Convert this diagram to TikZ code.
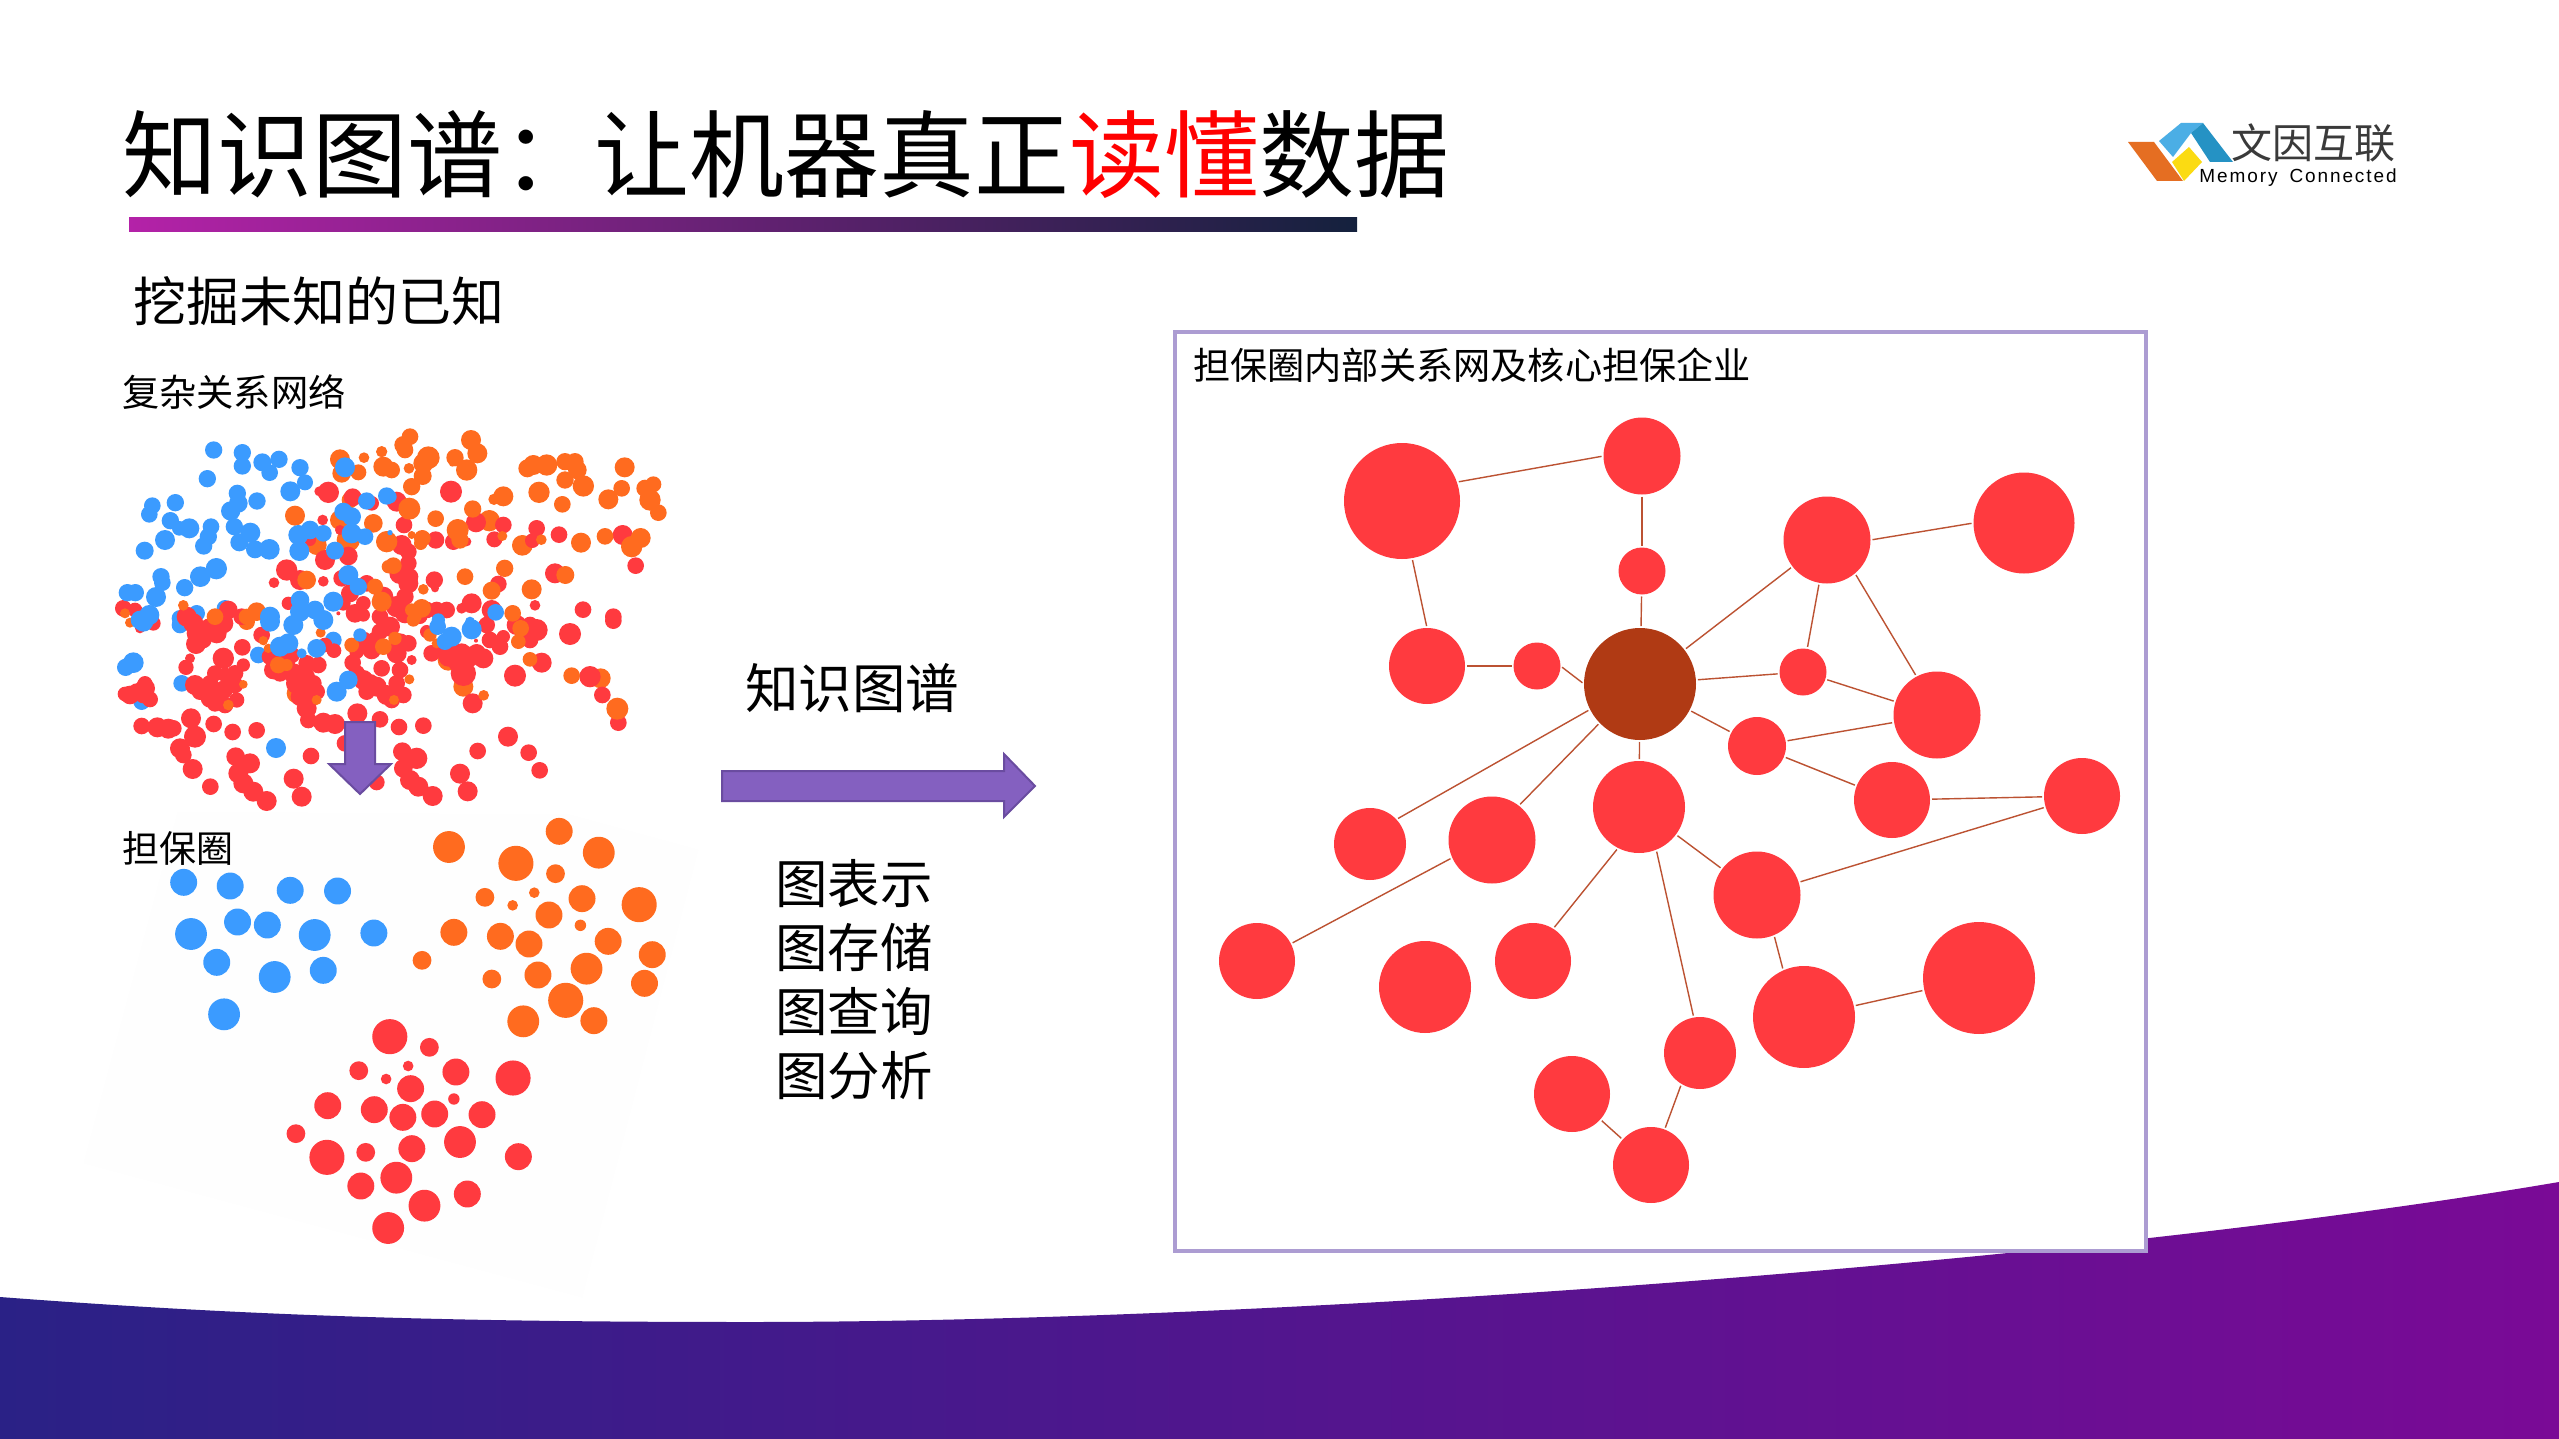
\documentclass[tikz,border=0pt]{standalone}
\usepackage{fontspec}
\setmainfont{Noto Sans CJK SC}
\newfontfamily\logolatin[LetterSpace=10]{Liberation Sans}
\definecolor{dotred}{HTML}{FF3A3F}
\definecolor{dotorange}{HTML}{FF6B1F}
\definecolor{dotblue}{HTML}{3B9BFF}
\definecolor{corebrown}{HTML}{B03A14}
\definecolor{edgecol}{HTML}{BC5232}
\definecolor{framecol}{HTML}{AC9CD2}
\definecolor{arrowfill}{HTML}{8460C0}
\definecolor{arrowline}{HTML}{6A4CA0}
\definecolor{wavel}{HTML}{2A2186}
\definecolor{wavem}{HTML}{481B8A}
\definecolor{waver}{HTML}{7A0A96}
\definecolor{barl}{HTML}{B422A8}
\definecolor{barr}{HTML}{14213D}
\definecolor{logoorange}{HTML}{E56E22}
\definecolor{logolight}{HTML}{4BAEE5}
\definecolor{logodark}{HTML}{2592C4}
\definecolor{logoyellow}{HTML}{FBDB12}
\definecolor{logotext}{HTML}{3A3A3A}
\definecolor{panelgrey}{HTML}{FEFEFE}
\newcommand{\dotsa}[4]{\foreach \dx/\dy/\dr in {#4}{\fill[#1] ({#2+\dx/3},{#3+\dy/3}) circle[radius=\dr/3];}}
\newcommand{\dotsb}[2]{\foreach \dx/\dy/\dr in {#2}{\fill[#1] ({80+\dx/2.45},{800+\dy/3}) circle[radius=\dr/2.45];}}
\newcommand{\fs}[1]{\fontsize{#1pt}{#1pt}\selectfont}
\tikzset{
  gnode/.style={circle,fill=dotred,draw=none,inner sep=0pt,outer sep=0pt,minimum size=#1},
  corenode/.style={circle,fill=corebrown,draw=none,inner sep=0pt,outer sep=0pt,minimum size=#1},
  glink/.style={draw=edgecol,line width=1.4pt,shorten >=2pt,shorten <=2pt},
  lbl/.style={inner sep=0pt,outer sep=0pt,anchor=base west,text=black},
  blockarrow/.style={fill=arrowfill,draw=arrowline,line width=2pt,line join=miter}
}
\begin{document}
\begin{tikzpicture}[x=1pt,y=-1pt]
\path[use as bounding box,fill=white] (0,0) rectangle (2559,1439);
% bottom wave
\path[left color=wavel,middle color=wavem,right color=waver]
  (0,1297) .. controls (250,1316) and (450,1322) .. (750,1322)
  .. controls (1300,1322) and (2100,1260) .. (2559,1182)
  -- (2559,1439) -- (0,1439) -- cycle;
% title
\node[lbl] (title) at (122,191) {\fs{95}知识图谱：\hspace{-3pt}让机器真正\textcolor{red}{读懂}数据};
\path[left color=barl,right color=barr,middle color=barl!50!barr] (129,218) rectangle (1357,232);
\node[lbl] (sub) at (133,321) {\fs{53}挖掘未知的已知};
\node[lbl] (net) at (122,406) {\fs{37.3}复杂关系网络};
% logo
\fill[logoorange] (2128,142) -- (2154,142) -- (2183,181) -- (2157,181) -- cycle;
\fill[logolight] (2159,141) -- (2181,123) -- (2203,123) -- (2191,133) -- (2173,157) -- cycle;
\fill[logodark] (2203,123) -- (2233,162) -- (2210,162) -- (2191,133) -- cycle;
\fill[logoyellow] (2189,147) -- (2202,162) -- (2184,181) -- (2172,162) -- cycle;
\node[anchor=center,inner sep=0pt,text=logotext] (logocn) at (2313,143) {\fs{41}文因互联};
\node[anchor=center,inner sep=0pt,text=black] (logoen) at (2298,177.5) {\logolatin\fs{19}Memory\hspace{12pt}Connected};
% faint panel behind the lower scatter
\fill[panelgrey] (178,812) -- (570,815) -- (698,850) -- (582,1297) -- (84,1163) -- cycle;
% upper scatter: under layers
\dotsa{dotblue}{110}{420}{345/565/25,260/580/25,210/595/25}
\dotsa{dotblue}{110}{620}{215/190/25,95/245/25,445/105/25,670/60/25,210/15/25}
\dotsa{dotorange}{110}{420}{690/300/30,715/360/35,620/375/30,790/310/28,720/240/25}
\dotsa{dotorange}{390}{420}{298/302/32,397/376/31}
\dotsa{dotorange}{110}{620}{560/220/30,410/5/25}
\dotsa{dotorange}{390}{620}{632/175/30,220/200/30,175/120/32}
% red
\dotsa{dotred}{110}{420}{655/217/32,628/214/15,728/232/27,785/250/22,638/300/16,645/420/30,715/408/28,530/450/32,492/488/16,570/480/30,640/484/16,695/475/25,720/520/27,770/490/25,535/550/20,820/530/30,735/580/28,685/580/6,760/585/20,40/565/25,75/570/22,355/570/28,230/590/30,395/590/25,600/360/18,690/330/15,810/590/25,760/550/22,700/550/22}
\dotsa{dotred}{390}{420}{183/215/33,20/245/30,258/307/30,340/315/25,313/358/24,440/325/25,427/362/22,507/344/25,698/345/30,737/437/25,42/315/25,137/360/26,35/375/30,55/395/25,190/365/25,230/365/14,30/460/32,55/430/25,55/490/30,133/480/26,135/505/12,325/492/25,495/460/30,435/556/16,579/569/25,670/590/25,245/550/30,215/565/16,170/570/25,140/570/25,110/570/25,20/560/32,305/570/30,45/530/26,60/470/25,45/580/30,90/590/22}
\dotsa{dotred}{110}{620}{258/72/30,300/30/35,250/10/30,340/10/30,397/82/25,340/115/32,228/142/23,240/115/15,315/160/24,400/135/20,375/160/25,375/195/25,255/195/30,290/215/30,320/225/30,315/250/25,345/255/25,380/240/23,45/222/22,80/215/25,105/205/30,120/238/24,90/25/15,130/10/22,455/45/25,480/110/25,490/150/28,520/110/25,545/105/25,590/130/25,625/135/25,550/160/30,610/190/25,590/215/30,590/265/30,595/300/25,640/308/30,675/312/30,742/280/30,810/298/25,645/75/22,672/92/22,728/128/25,815/145/25,760/65/30,810/35/25,840/20/30,760/180/30,800/200/30,830/225/30,705/370/25,800/487/24,243/295/30,255/350/33,210/385/30,220/405/25,248/447/30,95/318/25,142/322/30,175/326/30,190/325/25,311/312/25,368/336/25,440/331/25,377/410/28,420/430/30,385/460/30,400/490/30,430/515/30,470/543/30,301/500/25,603/408/25,551/476/30,575/530/30,560/190/32,530/130/25,510/160/25,590/170/25,570/230/28,620/215/25,740/160/25,780/190/28,770/215/25,340/210/28,300/190/25,345/165/22,270/215/25,300/235/28,260/40/30,320/40/30,280/60/25,60/225/28,100/225/25,105/190/22,785/90/28,795/60/25,740/95/22}
\dotsa{dotred}{390}{620}{540/42/33,670/2/25,455/128/30,375/167/33,600/170/32,637/225/25,685/308/25,248/250/30,220/160/38,220/130/30,280/115/30,240/110/30,125/100/25,170/80/30,300/60/25,330/80/25,420/60/25,440/30/33,380/15/30,290/15/25,110/35/20,30/70/30,55/70/25,20/100/30,65/120/15,30/150/25,20/190/25,40/225/25,5/240/25,258/62/6,27/321/25,100/317/25,354/350/30,263/393/25,416/398/25,449/451/25,37/395/28,80/415/32,40/445/28,60/480/30,85/500/30,128/528/30,210/461/30,233/514/30,215/100/30,260/100/28,200/130/25,150/85/22,175/110/30,340/50/20,400/45/25,420/15/25}
% orange on top
\dotsa{dotorange}{110}{420}{690/118/30,695/160/28,745/157/24,762/113/16,815/95/17,820/140/30,555/287/30,590/480/28,795/500/24,835/440/20,815/545/30,220/556/16,315/590/25,440/575/28,410/590/24,45/580/15,830/365/32}
\dotsa{dotorange}{390}{420}{60/50/25,40/75/27,45/90/25,5/150/25,115/113/34,100/130/30,98/168/27,65/200/26,57/145/16,243/60/30,262/100/30,195/113/26,230/150/32,187/130/10,340/229/30,312/238/17,447/217/32,412/145/27,430/135/30,470/135/32,525/125/26,555/125/26,525/180/26,562/150/28,580/198/32,517/253/25,704/142/30,695/205/25,655/238/30,765/205/26,790/193/24,780/240/32,805/278/25,137/296/25,58/266/33,248/267/26,203/330/33,210/360/26,97/355/25,92/370/20,454/359/16,573/368/30,645/349/25,752/354/30,725/380/32,344/445/26,225/470/25,526/465/27,10/437/25,100/508/16,305/512/27,425/508/30,95/565/28,65/570/20,75/590/20,368/580/25,337/348/15,65/345/12}
\dotsa{dotorange}{110}{620}{632/38/15,460/62/14,475/85/14,505/135/25,530/135/18,400/193/13,355/255/16,620/240/15,725/75/22,820/80/25,60/8/15}
\dotsa{dotorange}{390}{620}{392/25/25,385/65/22,420/118/22,545/167/25,682/266/33,281/226/16,58/178/15,12/240/15,15/55/20,120/45/20,140/70/15,70/0/20}
% blue on top
\dotsa{dotblue}{110}{420}{311/90/26,397/98/26,397/138/26,457/127/27,479/158/25,507/118/26,292/176/26,570/143/26,585/187/24,541/214/30,382/220/26,441/243/26,385/250/28,362/273/29,196/248/26,127/257/25,118/283/25,181/302/26,208/325/22,238/325/30,165/360/30,303/320/25,295/350/26,281/378/26,373/320/26,421/338/30,388/367/27,435/388/27,478/388/31,104/392/27,153/470/26,157/488/25,138/531/30,271/470/31,319/446/32,224/503/26,52/518/26,76/518/26,705/142/30,565/345/30,600/330/28,640/340/25,568/393/30,675/392/27,700/275/27,725/290/28,725/340/30,765/350/25,770/243/26,830/228/26,715/465/30,745/500/26,570/540/28,570/575/30,615/570/28,670/545/30,118/585/30,90/600/28,480/590/30,640/600/30}
\dotsa{dotblue}{390}{420}{317/577/25,145/600/20,240/605/15,0/230/20,0/338/8}
\dotsa{dotblue}{110}{620}{70/128/31,47/142/26,680/215/30,715/180/28,510/80/30,535/70/30,620/85/28,575/100/15,100/5/30,550/15/30,480/5/30,750/45/20,498/384/30}
\dotsa{dotblue}{390}{620}{143/20/25,245/28/30,185/50/30,165/65/25}
% down arrow
\draw[blockarrow] (345,722) -- (375,722) -- (375,764) -- (391,764) -- (360,794) -- (329,764) -- (345,764) -- cycle;
\node[lbl] (guar) at (122,862) {\fs{37}担保圈};
% lower scatter
\dotsb{dotblue}{254/247/33,368/258/33,515/271/33,631/273/33,272/402/39,386/366/33,459/375/33,575/405/39,720/399/33,335/487/33,477/531/39,596/511/33,353/643/39}
\dotsb{dotorange}{904/141/39,1174/94/33,1068/190/43,1271/158/39,1165/221/23,992/292/23,1113/278/13,1060/316/13,1230/296/33,1149/345/33,1370/314/43,1226/376/14,916/397/33,1030/409/33,1100/432/33,1294/424/33,1402/464/33,838/481/23,1009/537/23,1122/525/33,1241/506/39,1383/550/33,1190/601/43,1259/662/33,1086/664/39}
\dotsb{dotred}{759/710/43,856/742/23,683/812/23,804/798/13,750/837/13,921/816/33,810/866/33,1061/834/43,916/897/14,607/917/33,721/929/33,791/952/33,869/942/33,985/944/33,529/1001/23,931/1026/39,605/1072/43,700/1057/23,813/1046/33,1074/1070/33,775/1133/39,688/1158/33,949/1182/33,844/1217/39,755/1284/39}
% middle
\node[lbl] (kg) at (745,708) {\fs{53.5}知识图谱};
\draw[blockarrow] (722,771) -- (1004,771) -- (1004,754) -- (1035,786) -- (1004,817) -- (1004,801) -- (722,801) -- cycle;
\node[inner sep=0pt,outer sep=0pt,text=black,align=left,anchor=north west,font=\fontsize{52.5pt}{64pt}\selectfont] (ops) at (775,859) {图表示\\图存储\\图查询\\图分析};
% frame
\draw[line width=4pt,draw=framecol,fill=white] (1175,332) rectangle (2146,1251);
\node[lbl] (frametitle) at (1193,379) {\fs{37.2}担保圈内部关系网及核心担保企业};
% graph
\node[gnode=116pt] (A) at (1402,501) {};
\node[gnode=77pt] (B) at (1642,456) {};
\node[gnode=47pt] (C) at (1642,571) {};
\node[gnode=87pt] (D) at (1827,540) {};
\node[gnode=101pt] (E) at (2024,523) {};
\node[gnode=76pt] (F) at (1427,666) {};
\node[gnode=47pt] (G) at (1537,666) {};
\node[corenode=112pt] (H) at (1640,684) {};
\node[gnode=47pt] (I) at (1803,672) {};
\node[gnode=87pt] (J) at (1937,715) {};
\node[gnode=58pt] (K) at (1757,746) {};
\node[gnode=76pt] (L) at (1892,800) {};
\node[gnode=76pt] (M) at (2082,796) {};
\node[gnode=92pt] (N) at (1639,807) {};
\node[gnode=72pt] (O) at (1370,844) {};
\node[gnode=87pt] (P) at (1492,840) {};
\node[gnode=87pt] (Q) at (1757,895) {};
\node[gnode=76pt] (R) at (1257,961) {};
\node[gnode=92pt] (S) at (1425,987) {};
\node[gnode=76pt] (T) at (1533,961) {};
\node[gnode=102pt] (U) at (1804,1017) {};
\node[gnode=112pt] (V) at (1979,978) {};
\node[gnode=72pt] (W) at (1700,1053) {};
\node[gnode=76pt] (X) at (1572,1094) {};
\node[gnode=76pt] (Y) at (1651,1165) {};
\foreach \a/\b in {A.19/B.180,B/C,C/H,A.280/F.90,F/G,G.0/H.180,H/D,D.0/E.180,D/I,D.-50/J.118,H/I,I/J,H/K,K/J,K/L,L/M,M/Q,H/N,H.207/O.43,H.224/P.52,P.204/R.27,N/Q,N.-117/T.58,N.-68/W.100,Q.-67/U.114,U/V,W.-121/Y.69,X/Y}
  \draw[glink] (\a) -- (\b);
\end{tikzpicture}
\end{document}
